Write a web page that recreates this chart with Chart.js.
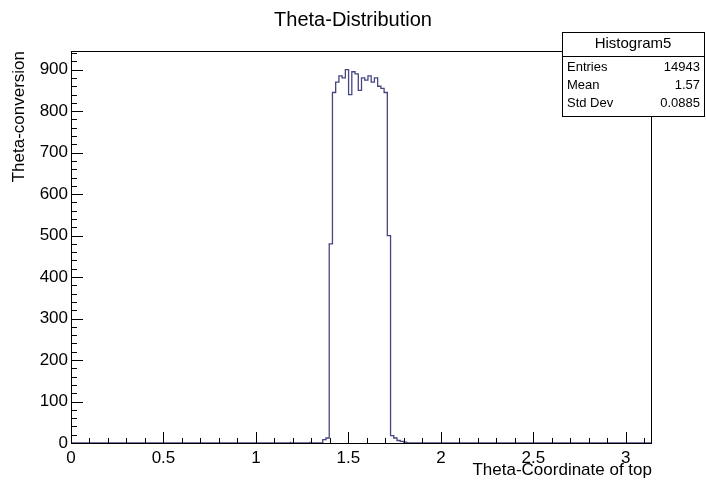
<!DOCTYPE html>
<html>
<head>
<meta charset="utf-8">
<script src="https://cdn.jsdelivr.net/npm/chart.js@4.4.0/dist/chart.umd.min.js"></script>
<style>
  html, body { margin: 0; padding: 0; background: #fff; }
  #wrap { width: 706px; height: 481px; }
</style>
</head>
<body>
<div id="wrap"><canvas id="histo" width="706" height="481"></canvas></div>
<script>
// histogramme 180 bins sur [0, pi] : on ne garde que les bins non vides
var binDeg = [68, 74, 78, 79, 80, 81, 82, 83, 84, 85, 86, 87, 88, 89, 90, 91, 92, 93, 94, 95, 96, 97, 98, 99, 100, 101, 102, 103, 104];
var counts = [3, 3, 4, 8, 12, 480, 845, 870, 885, 880, 900, 840, 895, 890, 850, 880, 875, 885, 870, 880, 860, 855, 845, 500, 18, 12, 6, 4, 2];
var nBins = 180;
var xTicks = [0, 0.5, 1, 1.5, 2, 2.5, 3];
var yTicks = [0, 100, 200, 300, 400, 500, 600, 700, 800, 900];
var yMax = 945;
var stats = [['Entries', '14943'], ['Mean', '1.57'], ['Std Dev', '0.0885']];

var bw = Math.PI / nBins;
var pts = [{ x: 0, y: 0 }];
for (var i = 0; i < binDeg.length; i++) {
    var lo = binDeg[i] * bw;
    if (i === 0 || binDeg[i - 1] !== binDeg[i] - 1) pts.push({ x: lo, y: 0 });
    pts.push({ x: lo, y: counts[i] });
    if (i === binDeg.length - 1 || binDeg[i + 1] !== binDeg[i] + 1) pts.push({ x: lo + bw, y: 0 });
}
pts.push({ x: Math.PI, y: 0 });

var FONT = '"Liberation Sans", Arial, sans-serif';

// cadre, petites graduations, titre et boite de stats facon ROOT
var rootDeco = {
    id: 'rootDeco',
    afterDraw: function (chart) {
        var ctx = chart.ctx, a = chart.chartArea;
        var xs = chart.scales.x, ys = chart.scales.y;
        ctx.save();
        ctx.strokeStyle = '#000';
        ctx.lineWidth = 1;
        ctx.strokeRect(a.left + 0.5, a.top + 0.5, a.right - a.left - 1, a.bottom - a.top);

        ctx.beginPath();
        for (var k = 0; k <= 31; k++) {
            var v = k / 10;
            var px = Math.round(xs.getPixelForValue(v)) + 0.5;
            var len = (k % 5 === 0) ? 11 : 5;
            ctx.moveTo(px, a.bottom);
            ctx.lineTo(px, a.bottom - len);
        }
        for (var j = 0; j <= 47; j++) {
            var yv = j * 20;
            if (yv > yMax) break;
            var py = Math.round(ys.getPixelForValue(yv)) + 0.5;
            var l2 = (j % 5 === 0) ? 12 : 6;
            ctx.moveTo(a.left, py);
            ctx.lineTo(a.left + l2, py);
        }
        ctx.stroke();

        ctx.fillStyle = '#000';
        ctx.font = '20px ' + FONT;
        ctx.textAlign = 'center';
        ctx.textBaseline = 'middle';
        ctx.fillText('Theta-Distribution', 353, 20);

        // stats box
        var bx = 562, by = 32, bwid = 142, bh = 84;
        ctx.fillStyle = '#fff';
        ctx.fillRect(bx, by, bwid, bh);
        ctx.strokeRect(bx + 0.5, by + 0.5, bwid, bh);
        ctx.beginPath();
        ctx.moveTo(bx, by + 24.5);
        ctx.lineTo(bx + bwid, by + 24.5);
        ctx.stroke();
        ctx.fillStyle = '#000';
        ctx.font = '15px ' + FONT;
        ctx.textAlign = 'center';
        ctx.fillText('Histogram5', bx + bwid / 2, by + 12);
        ctx.font = '13px ' + FONT;
        for (var s = 0; s < stats.length; s++) {
            var ty = by + 35 + s * 18;
            ctx.textAlign = 'left';
            ctx.fillText(stats[s][0], bx + 5, ty);
            ctx.textAlign = 'right';
            ctx.fillText(stats[s][1], bx + bwid - 4, ty);
        }
        ctx.restore();
    }
};

var canvas = document.getElementById('histo');
new Chart(canvas.getContext('2d'), {
    type: 'line',
    data: {
        datasets: [{
            data: pts,
            stepped: 'after',
            borderColor: '#464680',
            borderWidth: 1.3,
            pointRadius: 0,
            fill: false
        }]
    },
    options: {
        responsive: false,
        animation: false,
        layout: { padding: { top: 51, right: 54, left: 0, bottom: 0 } },
        plugins: { legend: { display: false }, tooltip: { enabled: false }, title: { display: false } },
        scales: {
            x: {
                type: 'linear',
                min: 0,
                max: Math.PI,
                afterBuildTicks: function (sc) { sc.ticks = xTicks.map(function (v) { return { value: v }; }); },
                afterFit: function (sc) { sc.height = 38; },
                grid: { display: false, drawTicks: false },
                border: { display: false },
                ticks: {
                    padding: 5,
                    color: '#000',
                    font: { family: FONT, size: 17 },
                    maxRotation: 0,
                    autoSkip: false,
                    callback: function (v) { return String(v); }
                },
                title: {
                    display: true,
                    text: 'Theta-Coordinate of top',
                    align: 'end',
                    color: '#000',
                    font: { family: FONT, size: 17 },
                    padding: { top: 0, bottom: 0 }
                }
            },
            y: {
                type: 'linear',
                min: 0,
                max: yMax,
                afterBuildTicks: function (sc) { sc.ticks = yTicks.map(function (v) { return { value: v }; }); },
                afterFit: function (sc) { sc.width = 71; },
                grid: { display: false, drawTicks: false },
                border: { display: false },
                ticks: {
                    padding: 3,
                    color: '#000',
                    font: { family: FONT, size: 17 },
                    autoSkip: false,
                    callback: function (v) { return String(v); }
                },
                title: {
                    display: true,
                    text: 'Theta-conversion',
                    align: 'end',
                    color: '#000',
                    font: { family: FONT, size: 17 },
                    padding: { top: 9, bottom: 0 }
                }
            }
        }
    },
    plugins: [rootDeco]
});
</script>
</body>
</html>
